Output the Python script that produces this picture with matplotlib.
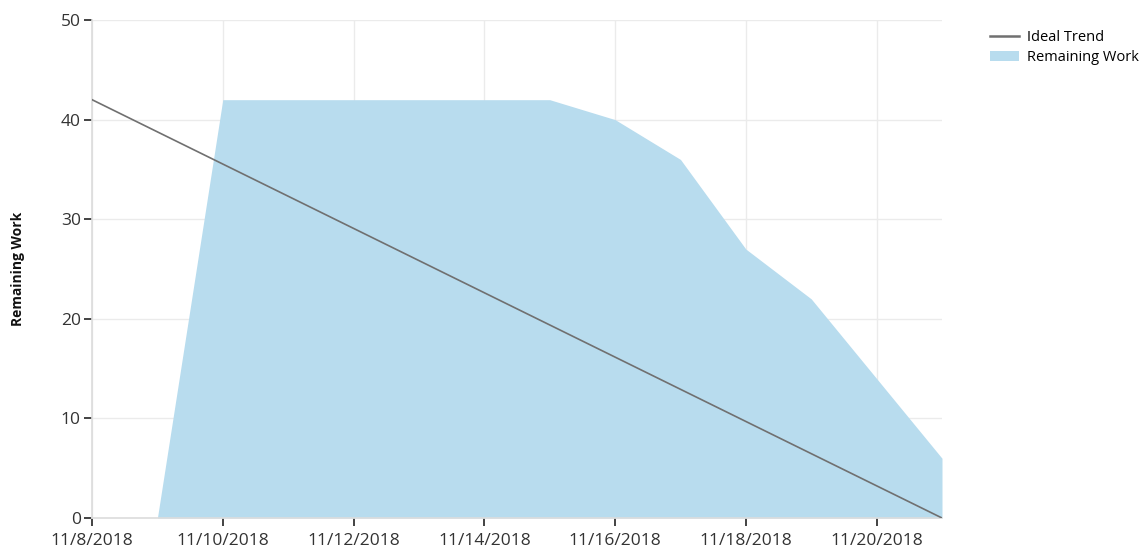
import numpy as np
import pandas as pd
import matplotlib
matplotlib.use('Agg')
import matplotlib.pyplot as plt
import matplotlib.dates as mdates
from matplotlib.patches import Patch
from matplotlib.lines import Line2D

matplotlib.rcParams['font.family'] = ['Open Sans', 'DejaVu Sans']

# data
work_dates = ['2018-11-09', '2018-11-10', '2018-11-11', '2018-11-12', '2018-11-13',
              '2018-11-14', '2018-11-15', '2018-11-16', '2018-11-17', '2018-11-18',
              '2018-11-19', '2018-11-20', '2018-11-21']
remaining = [0, 42, 42, 42, 42, 42, 42, 40, 36, 27, 22, 14, 6]

ideal_dates = ['2018-11-08', '2018-11-21']
ideal = [42, 0]

tick_dates = ['2018-11-08', '2018-11-10', '2018-11-12', '2018-11-14',
              '2018-11-16', '2018-11-18', '2018-11-20']
tick_labels = ['11/8/2018', '11/10/2018', '11/12/2018', '11/14/2018',
               '11/16/2018', '11/18/2018', '11/20/2018']
y_ticks = [0, 10, 20, 30, 40, 50]

wd = pd.to_datetime(work_dates)
idd = pd.to_datetime(ideal_dates)
td = pd.to_datetime(tick_dates)

fig = plt.figure(figsize=(11.48, 5.55), dpi=100)
ax = fig.add_axes([92/1148, 37/555, 850/1148, 498/555])

fill_color = '#b8dcee'
line_color = '#707070'

ax.fill_between(wd, remaining, 0, color=fill_color, linewidth=0, zorder=2)
ax.plot(idd, ideal, color=line_color, linewidth=1.2, zorder=3)

ax.set_xlim(pd.Timestamp('2018-11-08'), pd.Timestamp('2018-11-21'))
ax.set_ylim(0, 50)
ax.set_xticks(td)
ax.set_xticklabels(tick_labels)
ax.set_yticks(y_ticks)

ax.grid(True, color='#ebebeb', linewidth=1, zorder=0)
ax.set_axisbelow(True)
for s in ['top', 'right']:
    ax.spines[s].set_visible(False)
for s in ['left', 'bottom']:
    ax.spines[s].set_color('#dcdcdc')
    ax.spines[s].set_linewidth(1.2)

ax.tick_params(axis='both', colors='#222222', labelcolor='#333333', labelsize=12.5,
               length=6, width=1.2)
ax.tick_params(axis='x', pad=5)
ax.tick_params(axis='y', pad=2)

ax.set_ylabel('Remaining Work', fontsize=10, fontweight='bold', color='#111111', labelpad=26)

handles = [Line2D([0], [0], color=line_color, linewidth=1.8),
           Patch(facecolor=fill_color, edgecolor='none')]
fig.legend(handles, ['Ideal Trend', 'Remaining Work'], loc='upper left',
           bbox_to_anchor=(983/1148, 1 - 23/555), frameon=False, fontsize=10.5,
           handlelength=2.0, handletextpad=0.5, labelspacing=0.35, borderpad=0)

fig.savefig('out.png', dpi=100)
